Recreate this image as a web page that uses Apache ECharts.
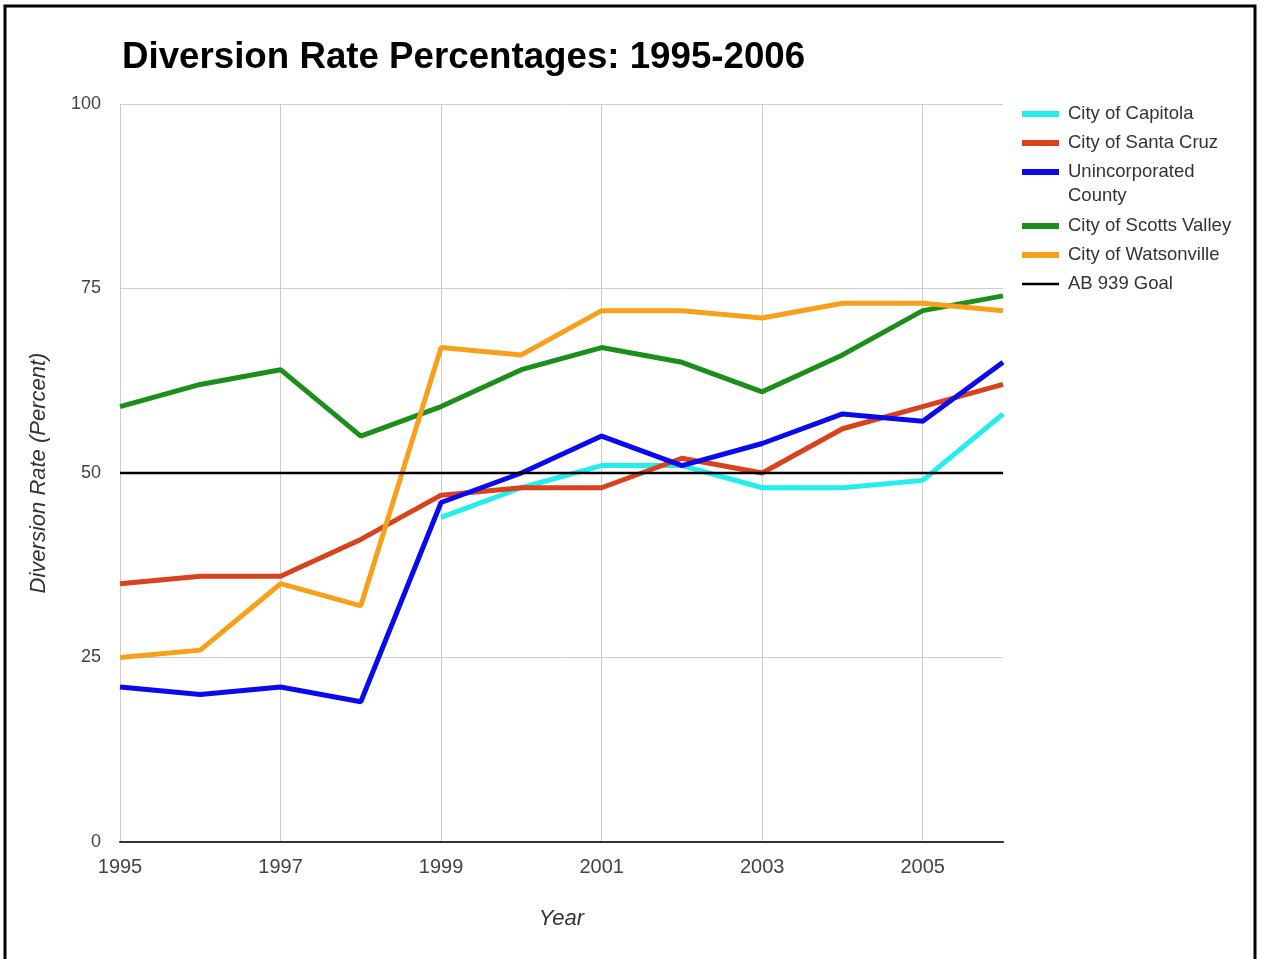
<!DOCTYPE html>
<html>
<head>
<meta charset="utf-8">
<script src="https://cdn.jsdelivr.net/npm/echarts@6/dist/echarts.min.js"></script>
<style>
html,body{margin:0;padding:0;background:#fff;}
#chart{width:1265px;height:959px;}
</style>
</head>
<body>
<div id="chart"></div>
<script>
var years = ['1995','1996','1997','1998','1999','2000','2001','2002','2003','2004','2005','2006'];
var capitola = [null, null, null, null, 44, 48, 51, 51, 48, 48, 49, 58];
var santaCruz = [35, 36, 36, 41, 47, 48, 48, 52, 50, 56, 59, 62];
var unincorporated = [21, 20, 21, 19, 46, 50, 55, 51, 54, 58, 57, 65];
var scottsValley = [59, 62, 64, 55, 59, 64, 67, 65, 61, 66, 72, 74];
var watsonville = [25, 26, 35, 32, 67, 66, 72, 72, 71, 73, 73, 72];
var goal = [50, 50, 50, 50, 50, 50, 50, 50, 50, 50, 50, 50];
var yTicks = [0, 25, 50, 75, 100];

var FONT = '"Liberation Sans", Arial, sans-serif';
var chart = echarts.init(document.getElementById('chart'));

function mk(name, data, color, width) {
  return {
    name: name, type: 'line', data: data, symbol: 'none', showSymbol: false,
    connectNulls: false, animation: false,
    lineStyle: { color: color, width: width },
    itemStyle: { color: color }
  };
}

var legendBase = {
  orient: 'vertical', left: 1017,
  icon: 'rect', itemWidth: 37, itemHeight: 6, itemGap: 4,
  textStyle: { fontFamily: FONT, fontSize: 18.5, color: '#333', lineHeight: 25, padding: [0, 0, 0, 4] }
};

chart.setOption({
  animation: false,
  backgroundColor: '#ffffff',
  title: {
    text: 'Diversion Rate Percentages: 1995-2006',
    left: 117, top: 34,
    textStyle: { fontFamily: FONT, fontSize: 36.7, fontWeight: 'bold', color: '#000' }
  },
  legend: [
    Object.assign({}, legendBase, {
      top: 96.5,
      formatter: function (n) { return n === 'Unincorporated County' ? 'Unincorporated' : n; },
      data: ['City of Capitola', 'City of Santa Cruz', 'Unincorporated County']
    }),
    Object.assign({}, legendBase, {
      top: 208.5,
      data: ['City of Scotts Valley', 'City of Watsonville',
        { name: 'AB 939 Goal', icon: 'path://M0,0H37V2.4H0Z' }]
    })
  ],
  grid: { left: 120, right: 262, top: 104, bottom: 117, containLabel: false },
  xAxis: {
    type: 'category', data: years, boundaryGap: false,
    name: 'Year', nameLocation: 'middle', nameGap: 66,
    nameTextStyle: { fontFamily: FONT, fontSize: 22, fontStyle: 'italic', color: '#333' },
    axisLine: { show: true, lineStyle: { color: '#333', width: 2 } },
    axisTick: { show: false },
    axisLabel: { interval: 1, margin: 15, fontFamily: FONT, fontSize: 20, color: '#444' },
    splitLine: { show: true, interval: 1, lineStyle: { color: '#cccccc', width: 1 } }
  },
  yAxis: {
    type: 'value', min: yTicks[0], max: yTicks[yTicks.length - 1], interval: 25,
    name: 'Diversion Rate (Percent)', nameLocation: 'middle', nameGap: 70,
    nameTextStyle: { fontFamily: FONT, fontSize: 22, fontStyle: 'italic', color: '#333' },
    axisLine: { show: false }, axisTick: { show: false },
    axisLabel: { margin: 19, fontFamily: FONT, fontSize: 18, color: '#444' },
    splitLine: { show: true, lineStyle: { color: '#cccccc', width: 1 } }
  },
  graphic: [{
    type: 'polyline', silent: true,
    shape: { points: [[5, 960], [5, 6], [1255, 6], [1255, 960]] },
    style: { stroke: '#000', lineWidth: 3, fill: null }
  }, {
    type: 'text', silent: true, left: 1068, top: 186,
    style: { text: 'County', fontFamily: FONT, fontSize: 18.5, fill: '#333' }
  }],
  series: [
    mk('City of Capitola', capitola, '#22EEEE', 5),
    mk('City of Santa Cruz', santaCruz, '#D9421A', 5),
    mk('Unincorporated County', unincorporated, '#0A0AEF', 5),
    mk('City of Scotts Valley', scottsValley, '#1A8F1A', 5),
    mk('City of Watsonville', watsonville, '#F9A01B', 5),
    mk('AB 939 Goal', goal, '#000000', 2.5)
  ]
});
</script>
</body>
</html>
